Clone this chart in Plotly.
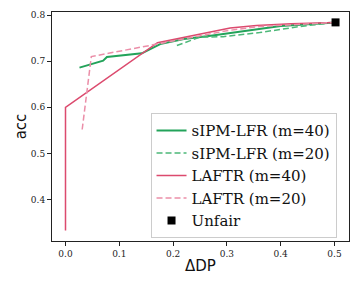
import plotly.graph_objects as go

sipm40_x = [0.026, 0.070, 0.077, 0.142, 0.176, 0.22, 0.27, 0.34, 0.40, 0.502]
sipm40_y = [0.686, 0.701, 0.709, 0.717, 0.737, 0.748, 0.755, 0.766, 0.776, 0.784]

sipm20_x = [0.207, 0.25, 0.293, 0.361, 0.435, 0.502]
sipm20_y = [0.734, 0.752, 0.753, 0.762, 0.775, 0.784]

laftr40_x = [0.0, 0.0, 0.171, 0.20, 0.25, 0.306, 0.355, 0.42, 0.502]
laftr40_y = [0.333, 0.600, 0.740, 0.747, 0.760, 0.772, 0.777, 0.781, 0.784]

laftr20_x = [0.031, 0.048, 0.17, 0.22, 0.30, 0.36, 0.43, 0.502]
laftr20_y = [0.552, 0.710, 0.737, 0.748, 0.766, 0.775, 0.780, 0.784]

unfair_x = [0.502]
unfair_y = [0.784]

x_ticks = [0.0, 0.1, 0.2, 0.3, 0.4, 0.5]
y_ticks = [0.4, 0.5, 0.6, 0.7, 0.8]

fig = go.Figure()
fig.add_trace(go.Scatter(x=sipm40_x, y=sipm40_y, mode="lines", name="sIPM-LFR (m=40)",
                         line=dict(color="#23a35a", width=2)))
fig.add_trace(go.Scatter(x=sipm20_x, y=sipm20_y, mode="lines", name="sIPM-LFR (m=20)",
                         line=dict(color="#4cb878", width=1.5, dash="6px,3px")))
fig.add_trace(go.Scatter(x=laftr40_x, y=laftr40_y, mode="lines", name="LAFTR (m=40)",
                         line=dict(color="#dc4a6e", width=1.5)))
fig.add_trace(go.Scatter(x=laftr20_x, y=laftr20_y, mode="lines", name="LAFTR (m=20)",
                         line=dict(color="#eb8ea8", width=1.5, dash="6px,3px")))
fig.add_trace(go.Scatter(x=unfair_x, y=unfair_y, mode="markers", name="Unfair",
                         marker=dict(color="black", symbol="square", size=8)))

axis_common = dict(showgrid=False, zeroline=False, showline=True, linecolor="#222",
                   linewidth=1, mirror=True, ticks="outside", ticklen=4, tickcolor="#222",
                   automargin=False,
                   tickfont=dict(family="DejaVu Serif", size=9, color="#222"))

fig.update_xaxes(range=[-0.0251, 0.527], tickvals=x_ticks, ticktext=[f"{v:.1f}" for v in x_ticks],
                 title=dict(text="ΔDP", font=dict(family="DejaVu Sans", size=15, color="#111"), standoff=2),
                 **axis_common)
fig.update_yaxes(range=[0.3105, 0.8065], tickvals=y_ticks, ticktext=[f"{v:.1f}" for v in y_ticks],
                 title=dict(text="acc", font=dict(family="DejaVu Sans", size=15, color="#111"), standoff=0),
                 **axis_common)

fig.update_layout(
    width=360, height=288,
    margin=dict(l=52, r=11, t=12, b=47),
    plot_bgcolor="white", paper_bgcolor="white",
    legend=dict(x=0.958, y=0.012, xanchor="right", yanchor="bottom",
                font=dict(family="DejaVu Serif", size=15, color="#111"),
                bgcolor="rgba(255,255,255,0.85)", bordercolor="#ccc", borderwidth=1,
                tracegroupgap=0, itemwidth=30),
    showlegend=True,
)

fig.write_html("out.html", config={"displayModeBar": False},
               post_script="document.body.style.margin='0';document.body.style.padding='0';")
